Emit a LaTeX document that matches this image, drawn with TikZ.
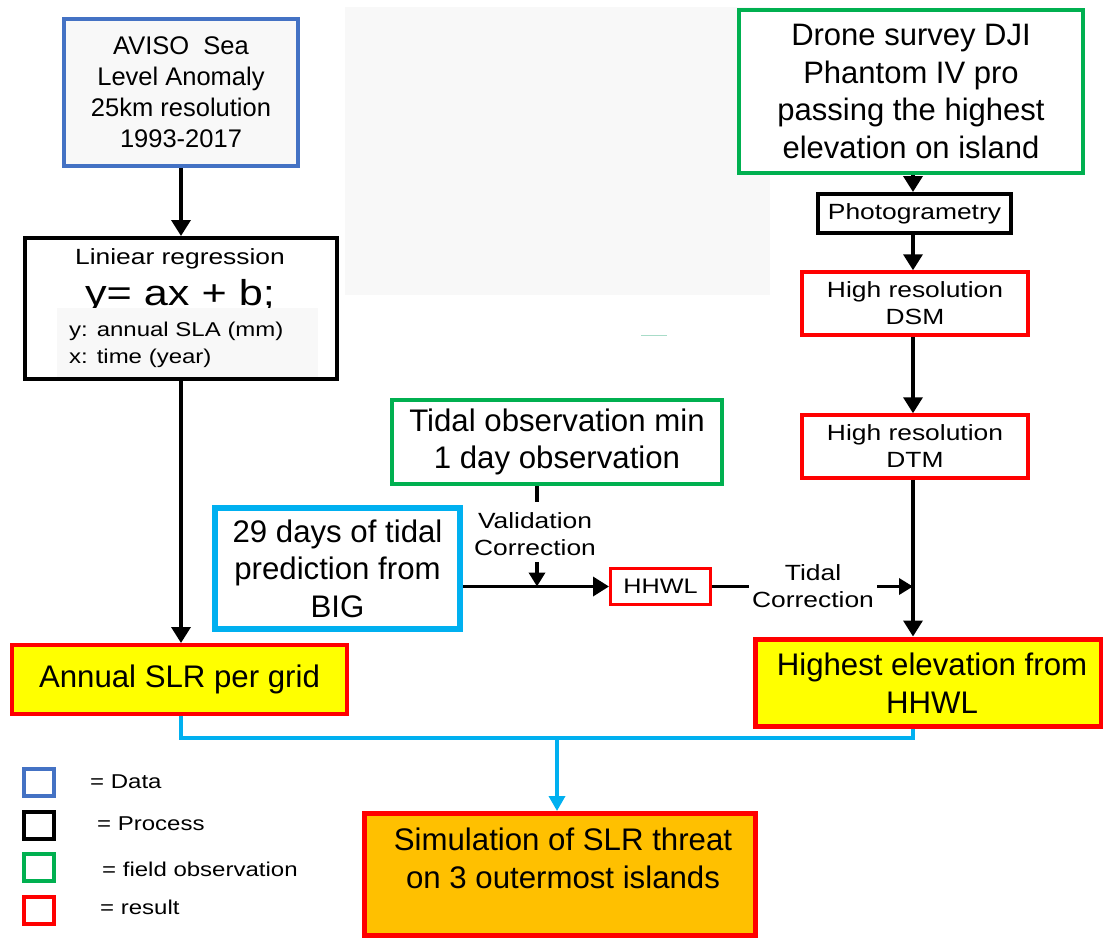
\documentclass[tikz,border=0pt]{standalone}
\usepackage{fontspec}
\setmainfont{Liberation Sans}
\newfontfamily\wf[FakeStretch=1.2]{Liberation Sans}
\usetikzlibrary{arrows.meta}
\definecolor{cBlue}{HTML}{4472C4}
\definecolor{cGreen}{HTML}{00B050}
\definecolor{cRed}{HTML}{FF0000}
\definecolor{cCyan}{HTML}{00B0F0}
\definecolor{cYellow}{HTML}{FFFF00}
\definecolor{cOrange}{HTML}{FFC000}
\definecolor{cGray}{HTML}{F8F8F8}
\definecolor{cTeal}{HTML}{A8DCC8}
\begin{document}
\begin{tikzpicture}[x=1pt,y=-1pt,
  box/.style={draw, line width=4pt, inner sep=0pt, align=center},
  txt/.style={inner sep=0pt, align=center},
  arr/.style={line width=3.5pt, -{Triangle[length=16pt,width=19pt]}},
  arrs/.style={line width=3.5pt, -{Triangle[length=14pt,width=16pt]}},
  bline/.style={draw=cCyan, line width=3.5pt},
  big/.style={font=\fontsize{31.2}{37.5}\selectfont},
  small/.style={font=\wf\fontsize{22}{27}\selectfont}]
\useasboundingbox (0,0) rectangle (1103,938);
\fill[white] (0,0) rectangle (1103,938);
\fill[cGray] (345,7) rectangle (770,295);
\draw[cTeal, line width=1pt] (641,335) -- (667,335);

% left column
\node[box, draw=cBlue, fill=cGray, minimum width=234pt, minimum height=147pt,
  font=\fontsize{25.5}{31}\selectfont] (aviso) at (181,92.5)
  {AVISO\ \ Sea\\Level Anomaly\\25km resolution\\1993-2017};

\node[txt, font=\wf\fontsize{22}{25}\selectfont] (regt) at (180,259) {Liniear regression};
\node[txt, anchor=base, font=\wf\fontsize{36}{40}\selectfont] (eq) at (180,305) {y= ax + b;};
\fill[cGray] (57,308) rectangle (318,379);
\node[txt, anchor=west, font=\wf\fontsize{20}{25}\selectfont] (ylab) at (69,331) {y: annual SLA (mm)};
\node[txt, anchor=west, font=\wf\fontsize{20}{25}\selectfont] (xlab) at (69,358) {x: time (year)};
\node[box, minimum width=312pt, minimum height=141pt] (reg) at (181,308.5) {};

\node[box, draw=cRed, fill=cYellow, minimum width=335pt, minimum height=69pt, big] (annual) at (179.5,679.5) {Annual SLR per grid};

% right column
\coordinate (colx) at (913,0);
\node[box, draw=cGreen, fill=white, minimum width=344pt, minimum height=163pt,
  font=\fontsize{31}{37.5}\selectfont] (drone) at (911,91.5)
  {Drone survey DJI\\Phantom IV pro\\passing the highest\\elevation on island};
\node[box, minimum width=193pt, minimum height=39pt, font=\wf\fontsize{22}{26}\selectfont] (photo) at (914.5,213.5) {Photogrametry};
\node[box, draw=cRed, line width=3.5pt, minimum width=226pt, minimum height=63pt, small] (dsm) at (915,303.5) {High resolution\\DSM};
\node[box, draw=cRed, line width=3.5pt, minimum width=226pt, minimum height=63pt, small] (dtm) at (915,446.5) {High resolution\\DTM};
\node[box, draw=cRed, fill=cYellow, line width=5pt, minimum width=346pt, minimum height=87pt] (high) at (928,682.5) {};
\node[txt, big] (hight) at (932,683) {Highest elevation from\\HHWL};

% middle
\node[box, draw=cGreen, minimum width=330pt, minimum height=84pt, big] (tidal) at (557,442) {Tidal observation min\\1 day observation};
\node[box, draw=cCyan, line width=6pt, minimum width=245pt, minimum height=121pt, big] (pred) at (337.5,568.5) {29 days of tidal\\prediction from\\BIG};
\node[box, draw=cRed, line width=3pt, minimum width=100pt, minimum height=36pt, font=\wf\fontsize{21}{25}\selectfont] (hhwl) at (660.5,586.5) {HHWL};

\coordinate (val) at (537,586.5);
\node[txt, small] (valt) at (535,534) {Validation\\Correction};
\node[txt, small, inner sep=3pt] (tct) at (813,586) {Tidal\\Correction};

% bottom
\node[box, draw=cRed, fill=cOrange, line width=5pt, minimum width=391pt, minimum height=122pt] (sim) at (560,874.5) {};
\node[txt, big] (simt) at (563,858.5) {Simulation of SLR threat\\on 3 outermost islands};

% legend
\node[box, draw=cBlue, minimum width=30pt, minimum height=27pt] (lg1) at (38.5,782) {};
\node[box, minimum width=30pt, minimum height=27pt] (lg2) at (38.5,825) {};
\node[box, draw=cGreen, minimum width=30pt, minimum height=27pt] (lg3) at (38.5,867) {};
\node[box, draw=cRed, minimum width=30pt, minimum height=27pt] (lg4) at (38.5,910) {};
\node[txt, anchor=west, font=\wf\fontsize{20}{24}\selectfont] at (90,782) {= Data};
\node[txt, anchor=west, font=\wf\fontsize{20}{24}\selectfont] at (97,824) {= Process};
\node[txt, anchor=west, font=\wf\fontsize{20}{24}\selectfont] at (102,869) {= field observation};
\node[txt, anchor=west, font=\wf\fontsize{20}{24}\selectfont] at (100,907) {= result};

% connectors
\draw[arr] (aviso.south) -- (reg.north);
\draw[arr] (reg.south) -- (reg.south |- annual.north);
\draw[arr] (drone.south -| colx) -- (photo.north -| colx);
\draw[arr] (photo.south -| colx) -- (dsm.north -| colx);
\draw[arr] (dsm.south -| colx) -- (dtm.north -| colx);
\draw[arr] (dtm.south -| colx) -- (high.north -| colx);
\draw[arr] (pred.east |- hhwl.west) -- (hhwl.west);
\draw[line width=3.5pt] (tidal.south -| val) -- ++(0,16);
\draw[arrs] ([yshift=-6pt]valt.south -| val) -- (val);
\draw[line width=3.5pt] (hhwl.east) -- (tct.west |- hhwl.east);
\draw[arrs] (tct.east |- hhwl.east) -- (colx |- hhwl.east);

\coordinate (bus) at (557,738);
\draw[bline] (reg.south |- annual.south) -- (reg.south |- bus) -- (colx |- bus) -- (colx |- high.south);
\draw[bline, -{Triangle[length=15pt,width=16pt]}] (bus) -- (bus |- sim.north);
\end{tikzpicture}
\end{document}
